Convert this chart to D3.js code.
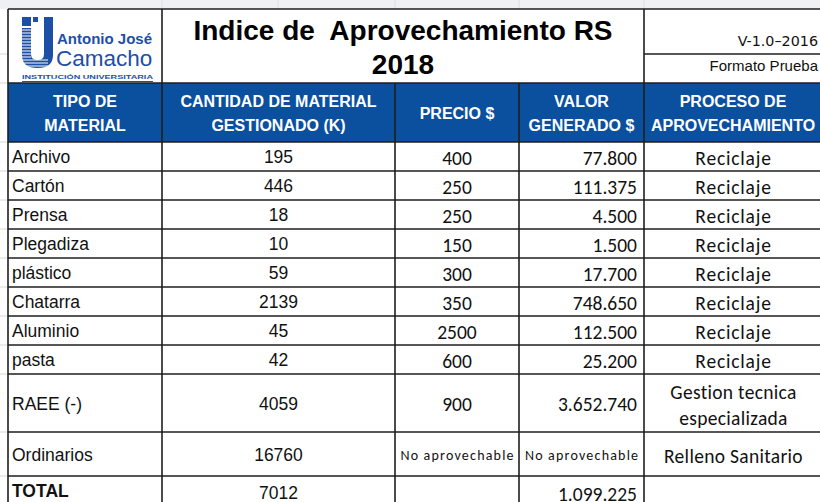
<!DOCTYPE html>
<html>
<head>
<meta charset="utf-8">
<script src="https://cdn.jsdelivr.net/npm/d3@7"></script>
<style>
  html, body { margin: 0; padding: 0; background: #fff; }
  svg { display: block; }
  text { white-space: pre; }
</style>
</head>
<body>
<svg id="tabla" width="820" height="502"></svg>
<script>
// -------------------------
// Data
// -------------------------
const materiales = ["Archivo", "Cartón", "Prensa", "Plegadiza", "plástico", "Chatarra", "Aluminio", "pasta", "RAEE (-)", "Ordinarios"];
const cantidad = [195, 446, 18, 10, 59, 2139, 45, 42, 4059, 16760];
const precio = [400, 250, 250, 150, 300, 350, 2500, 600, 900, null];
const valor = [77800, 111375, 4500, 1500, 17700, 748650, 112500, 25200, 3652740, null];
const proceso = ["Reciclaje", "Reciclaje", "Reciclaje", "Reciclaje", "Reciclaje", "Reciclaje", "Reciclaje", "Reciclaje",
    ["Gestion tecnica", "especializada"], "Relleno Sanitario"];
const totalCantidad = 7012;
const totalValor = 1099225;
const encabezados = [["TIPO DE", "MATERIAL"], ["CANTIDAD DE MATERIAL", "GESTIONADO (K)"], ["PRECIO $"],
    ["VALOR", "GENERADO $"], ["PROCESO DE", "APROVECHAMIENTO"]];
const titulo = ["Indice de  Aprovechamiento RS", "2018"];
const version = "V-1.0\u20132016";
const formato = "Formato Prueba";
const noAprov = "No aprovechable";

// -------------------------
// Layout
// -------------------------
const BLUE = "#0b4f9f";
const LOGO_BLUE = "#1d4fa6";
const LINE = "#1e1e1e";
const ARIAL = "'Liberation Sans', Arial, sans-serif";
const CALIBRI = "Carlito, Calibri, 'Open Sans', sans-serif";

const colEdges = [8, 162, 395, 519, 644, 840];
const TOP = 9, HEAD_TOP = 83, HEAD_BOT = 142;
const rowHeights = [29, 29, 29, 29, 29, 29, 29, 29, 58, 44, 44];
const rowEdges = [HEAD_BOT];
rowHeights.forEach(h => rowEdges.push(rowEdges[rowEdges.length - 1] + h));

const fmt = d3.formatLocale({decimal: ",", thousands: ".", grouping: [3], currency: ["$", ""]}).format(",d");
const colMid = c => (colEdges[c] + Math.min(colEdges[c + 1], 822)) / 2;

const svg = d3.select("#tabla");

// excel-ish surroundings
svg.append("rect").attr("x", 0).attr("y", 0).attr("width", 820).attr("height", TOP).attr("fill", "#eef0f3");
[162, 278, 395, 519, 644].forEach(x => svg.append("line")
    .attr("x1", x).attr("x2", x).attr("y1", 0).attr("y2", TOP)
    .attr("stroke", "#dcdfe4").attr("stroke-width", 1));
rowEdges.concat([54, 83]).forEach(y => svg.append("line")
    .attr("x1", 0).attr("x2", 8).attr("y1", y).attr("y2", y)
    .attr("stroke", "#d8d8d8").attr("stroke-width", 1));

// header band
svg.append("rect")
    .attr("x", colEdges[0]).attr("y", HEAD_TOP)
    .attr("width", 820 - colEdges[0]).attr("height", HEAD_BOT - HEAD_TOP)
    .attr("fill", BLUE);

// -------------------------
// Logo
// -------------------------
const logo = svg.append("g");
logo.append("rect").attr("x", 22).attr("y", 17).attr("width", 9).attr("height", 9).attr("fill", LOGO_BLUE);
logo.append("rect").attr("x", 33).attr("y", 17).attr("width", 5).attr("height", 5).attr("fill", LOGO_BLUE);
logo.append("path")
    .attr("d", "M22,28 L31,28 L31,54 Q31,60 37.5,60 Q44,60 44,54 L44,17 L53,17 L53,55 Q53,68 37.5,68 Q22,68 22,55 Z")
    .attr("fill", LOGO_BLUE);
d3.range(30, 67, 3).forEach(y => logo.append("line")
    .attr("x1", 22).attr("x2", y > 58 ? 48 : 31).attr("y1", y).attr("y2", y)
    .attr("stroke", "#fff").attr("stroke-width", 1));
logo.append("text").attr("x", 57).attr("y", 44)
    .attr("font-family", ARIAL).attr("font-weight", "bold").attr("font-size", 15)
    .attr("fill", LOGO_BLUE).text("Antonio José");
logo.append("text").attr("x", 56).attr("y", 66)
    .attr("font-family", ARIAL).attr("font-size", 22.5)
    .attr("fill", LOGO_BLUE).text("Camacho");
logo.append("text").attr("x", 22).attr("y", 79)
    .attr("font-family", ARIAL).attr("font-weight", "bold").attr("font-size", 6)
    .attr("textLength", 131).attr("lengthAdjust", "spacingAndGlyphs")
    .attr("fill", LOGO_BLUE).text("INSTITUCIÓN UNIVERSITARIA");
logo.append("line").attr("x1", 22).attr("x2", 153).attr("y1", 81.5).attr("y2", 81.5)
    .attr("stroke", LOGO_BLUE).attr("stroke-width", 1);

// -------------------------
// Title block
// -------------------------
const titleX = (colEdges[1] + colEdges[4]) / 2;
svg.selectAll("text.titulo").data(titulo).enter().append("text")
    .attr("class", "titulo")
    .attr("x", titleX).attr("y", (d, i) => 40 + i * 34)
    .attr("text-anchor", "middle")
    .attr("font-family", ARIAL).attr("font-weight", "bold").attr("font-size", 28)
    .attr("fill", "#000").text(d => d);

svg.append("text").attr("x", 818).attr("y", 46).attr("text-anchor", "end")
    .attr("font-family", "'DejaVu Sans', sans-serif").attr("font-size", 14.3).attr("fill", "#111").text(version);
svg.append("text").attr("x", 818).attr("y", 71).attr("text-anchor", "end")
    .attr("font-family", ARIAL).attr("font-size", 15).attr("fill", "#111").text(formato);

// -------------------------
// Header labels
// -------------------------
encabezados.forEach((lines, c) => {
    const mid = (HEAD_TOP + HEAD_BOT) / 2;
    lines.forEach((t, i) => {
        svg.append("text")
            .attr("x", colMid(c))
            .attr("y", mid + 6 + (i - (lines.length - 1) / 2) * 24)
            .attr("text-anchor", "middle")
            .attr("font-family", ARIAL).attr("font-weight", "bold").attr("font-size", 16)
            .attr("fill", "#fff").text(t);
    });
});

// -------------------------
// Body rows
// -------------------------
const rows = materiales.map((m, i) => ({
    mat: m, cant: cantidad[i], precio: precio[i], valor: valor[i], proc: proceso[i],
    y0: rowEdges[i], y1: rowEdges[i + 1]
}));
rows.push({mat: "TOTAL", cant: totalCantidad, precio: undefined, valor: totalValor, proc: "",
    y0: rowEdges[10], y1: rowEdges[11], total: true});

const calText = (g, x, y, anchor, size, spacing, t) => g.append("text")
    .attr("x", x).attr("y", y).attr("text-anchor", anchor)
    .attr("font-family", CALIBRI).attr("font-size", size).attr("letter-spacing", spacing)
    .attr("fill", "#111").text(t);

rows.forEach(r => {
    const my = r.total ? r.y0 + 21 : (r.y0 + r.y1) / 2 + 6.5;
    const g = svg.append("g");
    g.append("text").attr("x", colEdges[0] + 4).attr("y", my)
        .attr("font-family", ARIAL).attr("font-size", 17.5)
        .attr("font-weight", r.total ? "bold" : "normal")
        .attr("fill", "#111").text(r.mat);
    g.append("text").attr("x", colMid(1)).attr("y", my + (r.total ? 2 : 0)).attr("text-anchor", "middle")
        .attr("font-family", ARIAL).attr("font-size", 17.5).attr("fill", "#111").text(r.cant);

    if (r.precio === null) {
        [2, 3].forEach(c => calText(g, colMid(c) + 0.6, my - 1, "middle", 14, 1.2, noAprov));
    } else {
        if (r.precio !== undefined) calText(g, colMid(2), my + 1.5, "middle", 19.5, 0, r.precio);
        calText(g, colEdges[4] - 7, my + 1.5 + (r.total ? 2 : 0), "end", 19.5, 0, fmt(r.valor));
    }

    const lines = Array.isArray(r.proc) ? r.proc : [r.proc];
    lines.forEach((t, i) => calText(g, colMid(4) + 0.5, my + 2 + (i - (lines.length - 1) / 2) * 26,
        "middle", 19.5, lines.length > 1 || t.length > 10 ? 0.3 : 0.8, t));
});

// -------------------------
// Grid lines
// -------------------------
const grid = svg.append("g").attr("stroke", LINE).attr("stroke-width", 1.6);
// horizontal
[TOP, HEAD_TOP].concat(rowEdges.slice(0, 11)).forEach(y => grid.append("line")
    .attr("x1", colEdges[0]).attr("x2", 820).attr("y1", y).attr("y2", y));
grid.append("line").attr("x1", colEdges[4]).attr("x2", 820).attr("y1", 54).attr("y2", 54).attr("stroke-width", 1.3);
// vertical, title block
[colEdges[0], colEdges[1], colEdges[4]].forEach(x => grid.append("line")
    .attr("x1", x).attr("x2", x).attr("y1", TOP).attr("y2", HEAD_TOP));
// vertical, table body
colEdges.slice(0, 5).forEach(x => grid.append("line")
    .attr("x1", x).attr("x2", x).attr("y1", HEAD_TOP).attr("y2", 502));
</script>
</body>
</html>
